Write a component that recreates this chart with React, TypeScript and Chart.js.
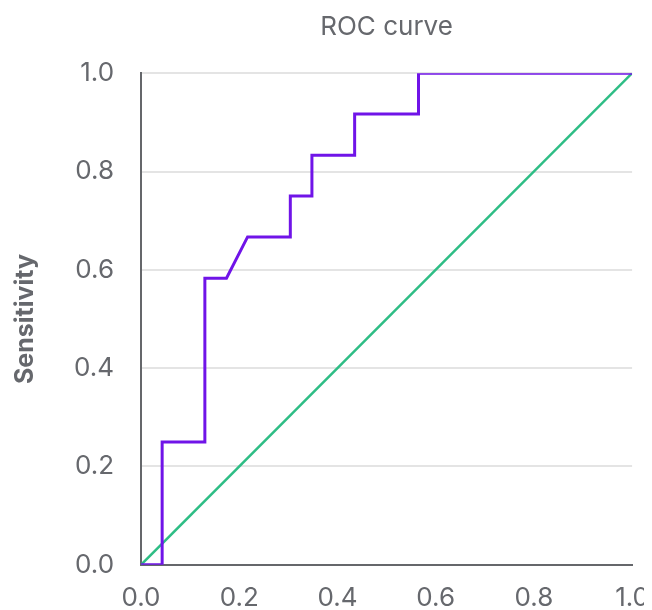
import React, { useEffect, useRef } from "react";
import { Chart, registerables } from "chart.js";

Chart.register(...registerables);

const fpr = [0, 0.043, 0.043, 0.13, 0.13, 0.174, 0.217, 0.304, 0.304, 0.348, 0.348, 0.435, 0.435, 0.565, 0.565, 1];
const tpr = [0, 0, 0.25, 0.25, 0.583, 0.583, 0.667, 0.667, 0.75, 0.75, 0.833, 0.833, 0.917, 0.917, 1, 1];
const refX = [0, 1];
const refY = [0, 1];
const yTickValues = [0, 0.2, 0.4, 0.6, 0.8, 1.0];

const FONT = "Inter, 'Noto Sans', sans-serif";
const TEXT = "#66686d";

export default function App() {
  const ref = useRef<HTMLCanvasElement>(null);
  useEffect(() => {
    if (!ref.current) return;
    const chart = new Chart(ref.current, {
      type: "scatter",
      data: {
        datasets: [
          {
            label: "ROC",
            data: fpr.map((x, i) => ({ x, y: tpr[i] })),
            showLine: true,
            borderColor: "#7014e8",
            backgroundColor: "#7014e8",
            borderWidth: 3,
            pointRadius: 0,
            tension: 0,
          },
          {
            label: "Chance",
            data: refX.map((x, i) => ({ x, y: refY[i] })),
            showLine: true,
            borderColor: "#2ebd85",
            backgroundColor: "#2ebd85",
            borderWidth: 2.5,
            pointRadius: 0,
          },
        ],
      },
      options: {
        animation: false,
        responsive: true,
        maintainAspectRatio: false,
        plugins: {
          legend: { display: false },
          tooltip: { enabled: false },
          title: {
            display: true,
            fullSize: false,
            text: "ROC curve",
            color: TEXT,
            font: { family: FONT, size: 26, weight: "normal" },
            padding: { top: 4, bottom: 30 },
          },
        },
        scales: {
          x: {
            type: "linear",
            min: 0,
            max: 1,
            grid: {
              color: "rgba(0,0,0,0)",
              tickColor: "rgba(0,0,0,0)",
              drawTicks: true,
              tickLength: 18,
            },
            border: { display: true, color: "#65676b", width: 2 },
            ticks: {
              stepSize: 0.2,
              padding: 0,
              color: TEXT,
              font: { family: FONT, size: 26 },
              callback: (v: any) => Number(v).toFixed(1),
            },
          },
          y: {
            type: "linear",
            min: 0,
            max: 1,
            afterBuildTicks: (s: any) => {
              s.ticks = yTickValues.map((v) => ({ value: v }));
            },
            grid: { color: "#e4e4e4", lineWidth: 2, drawTicks: false },
            border: { display: true, color: "#65676b", width: 2 },
            ticks: {
              padding: 27,
              color: TEXT,
              font: { family: FONT, size: 26 },
              callback: (v: any) => Number(v).toFixed(1),
            },
            title: {
              display: true,
              text: "Sensitivity",
              color: TEXT,
              font: { family: FONT, size: 25, weight: "bold" },
              padding: { top: 2, bottom: 7 },
            },
          },
        },
      },
    });
    return () => chart.destroy();
  }, []);
  return (
    <>
      <style>{"html{overflow:hidden}"}</style>
      <div style={{ width: 641, height: 606, position: "relative" }}>
        <canvas ref={ref} />
      </div>
    </>
  );
}
